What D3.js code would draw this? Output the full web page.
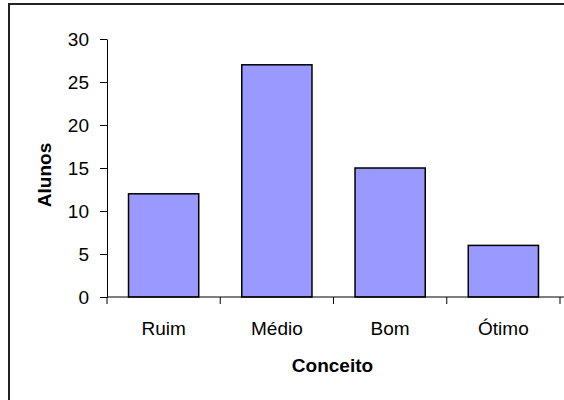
<!DOCTYPE html>
<html>
<head>
<meta charset="utf-8">
<script src="https://cdn.jsdelivr.net/npm/d3@7"></script>
<style>
  html, body { margin: 0; padding: 0; background: #fff; }
  svg { display: block; }
  text { font-family: Arial, "Liberation Sans", sans-serif; fill: #000; }
</style>
</head>
<body>
<svg id="chart" width="564" height="400"></svg>
<script>
// Students per grade
const categories = ["Ruim", "Médio", "Bom", "Ótimo"];
const alunos = [12, 27, 15, 6];
const yTicks = [0, 5, 10, 15, 20, 25, 30];
const yLabel = "Alunos";
const xLabel = "Conceito";

const svg = d3.select("#chart");
const fontSize = "19px";

// Frame around the chart area
svg.append("path")
  .attr("d", "M9,400 L9,4 L564,4")
  .attr("fill", "none")
  .attr("stroke", "#222")
  .attr("stroke-width", 2);

const plot = { left: 107, right: 560, top: 39, bottom: 297 };

const x = d3.scaleBand()
  .domain(categories)
  .range([plot.left, plot.right])
  .padding(0);

const y = d3.scaleLinear()
  .domain([0, 30])
  .range([plot.bottom, plot.top]);

const barW = x.bandwidth() * 0.62;

// Bars
svg.append("g")
  .selectAll("rect")
  .data(categories.map((c, i) => ({ c, v: alunos[i] })))
  .join("rect")
  .attr("x", d => x(d.c) + (x.bandwidth() - barW) / 2)
  .attr("y", d => y(d.v))
  .attr("width", barW)
  .attr("height", d => y(0) - y(d.v))
  .attr("fill", "#9999FF")
  .attr("stroke", "#000")
  .attr("stroke-width", 1.5);

// Y axis
const yAxis = svg.append("g")
  .attr("transform", `translate(${plot.left},0)`)
  .call(d3.axisLeft(y).tickValues(yTicks).tickSize(7).tickSizeOuter(0).tickPadding(11));
yAxis.select(".domain").attr("stroke", "#000");
yAxis.selectAll(".tick line").attr("stroke", "#000");
yAxis.selectAll(".tick text")
  .style("font-family", "Arial, 'Liberation Sans', sans-serif")
  .style("font-size", fontSize)
  .attr("fill", "#000");

// X axis: ticks sit on category boundaries
const xAxis = svg.append("g")
  .attr("transform", `translate(0,${plot.bottom})`);
xAxis.append("line")
  .attr("x1", plot.left).attr("x2", plot.right + 4)
  .attr("y1", 0).attr("y2", 0)
  .attr("stroke", "#000");
const bounds = categories.map(c => x(c)).concat([x(categories[categories.length - 1]) + x.bandwidth()]);
xAxis.selectAll("line.tk")
  .data(bounds)
  .join("line")
  .attr("class", "tk")
  .attr("x1", d => d).attr("x2", d => d)
  .attr("y1", 0).attr("y2", 7)
  .attr("stroke", "#000");
xAxis.selectAll("text.cat")
  .data(categories)
  .join("text")
  .attr("class", "cat")
  .attr("x", d => x(d) + x.bandwidth() / 2)
  .attr("y", 38)
  .attr("text-anchor", "middle")
  .style("font-size", fontSize)
  .text(d => d);

// Axis titles
svg.append("text")
  .attr("x", (plot.left + plot.right) / 2 - 1)
  .attr("y", 372)
  .attr("text-anchor", "middle")
  .style("font-size", fontSize)
  .style("font-weight", "bold")
  .text(xLabel);

svg.append("text")
  .attr("transform", "translate(51,175) rotate(-90)")
  .attr("text-anchor", "middle")
  .style("font-size", fontSize)
  .style("font-weight", "bold")
  .text(yLabel);
</script>
</body>
</html>
